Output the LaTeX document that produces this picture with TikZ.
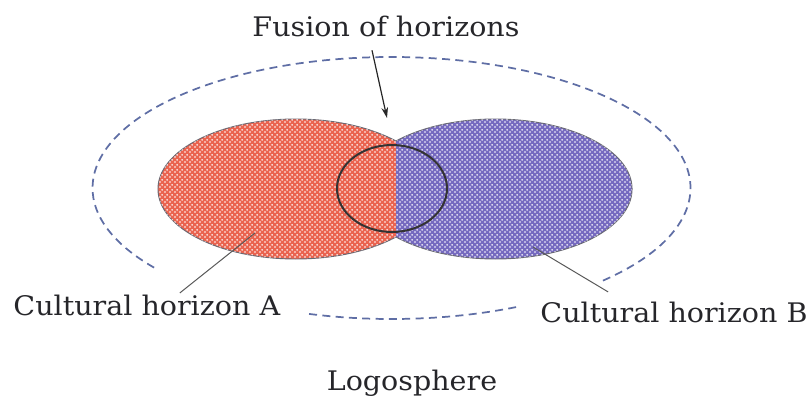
\documentclass[tikz,border=0pt]{standalone}
\usepackage{fontspec}
\setmainfont{DejaVu Serif}[FakeStretch=1.06]
\usetikzlibrary{arrows.meta, patterns, calc}
\definecolor{redhz}{RGB}{234,100,80}
\definecolor{bluehz}{RGB}{118,106,192}
\definecolor{rimgray}{RGB}{105,105,115}
\definecolor{spheredash}{RGB}{95,110,165}
\definecolor{inkgray}{RGB}{38,38,42}
\pgfdeclarepatternformonly{hzdots}{\pgfpointorigin}{\pgfpoint{3.4pt}{3.4pt}}{\pgfpoint{3.4pt}{3.4pt}}{
  \pgfpathcircle{\pgfpoint{0.85pt}{0.85pt}}{0.75pt}
  \pgfpathcircle{\pgfpoint{2.55pt}{2.55pt}}{0.75pt}
  \pgfusepath{fill}
}
\tikzstyle{horizon} = [draw=rimgray, line width=0.7pt, postaction={pattern=hzdots, pattern color=white}]
\tikzstyle{hzlabel} = [font=\fontsize{20.2}{24}\selectfont, text=inkgray, inner sep=2pt]
\tikzstyle{sphere} = [draw=spheredash, line width=1.3pt, dash pattern=on 6pt off 4pt]
\tikzstyle{leader} = [draw=black!65, line width=0.75pt]
\tikzstyle{arrow} = [draw=black!85, line width=0.9pt, -{Stealth[length=8pt,width=5pt]}]

\begin{document}
\begin{tikzpicture}[x=0.75pt, y=0.75pt]
  \useasboundingbox (0,0) rectangle (806,408);

  \coordinate (spherec) at (391.5,220);
  \coordinate (redc) at (295.7,219);
  \coordinate (bluec) at (495.4,219);
  \coordinate (fusec) at (392,219.5);

  % the two horizons, cut at the seam
  \begin{scope}
    \clip (0,0) rectangle (396,408);
    \path[horizon, fill=redhz] (redc) ellipse [x radius=103.3pt, y radius=52.5pt];
  \end{scope}
  \begin{scope}
    \clip (396,0) rectangle (806,408);
    \path[horizon, fill=bluehz] (bluec) ellipse [x radius=102.5pt, y radius=52.5pt];
  \end{scope}
  \draw[draw=black!80, line width=1.5pt] (fusec) ellipse [x radius=41.25pt, y radius=32.6pt];

  % logosphere
  \draw[sphere] (spherec) ++(-45:224.25pt and 98.25pt) arc[start angle=-45, end angle=218.5, x radius=224.25pt, y radius=98.25pt];
  \draw[sphere] (spherec) ++(-106:224.25pt and 98.25pt) arc[start angle=-106, end angle=-65, x radius=224.25pt, y radius=98.25pt];

  \node[hzlabel, anchor=base] (fusion) at (386,371) {Fusion of horizons};
  \node[hzlabel, anchor=base west] (cultA) at (10.5,93) {Cultural horizon A};
  \node[hzlabel, anchor=base west] (cultB) at (537.5,86) {Cultural horizon B};
  \node[hzlabel, anchor=base] (logos) at (412,18) {Logosphere};

  \coordinate (fusetip) at (387,290);
  \coordinate (redpin) at (255,175);
  \coordinate (bluepin) at (533,161);
  \draw[arrow] ([xshift=-10.5pt,yshift=-7.5pt]fusion.south) -- (fusetip);
  \draw[leader] (redpin) -- ([xshift=127pt,yshift=-1pt]cultA.north west);
  \draw[leader] (bluepin) -- ([xshift=53pt,yshift=5pt]cultB.north west);
\end{tikzpicture}
\end{document}
